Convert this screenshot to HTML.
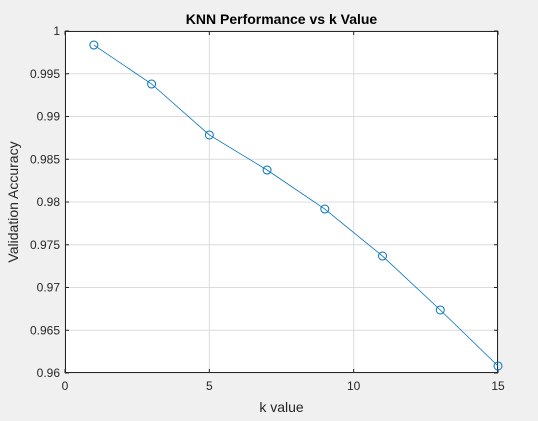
<!DOCTYPE html>
<html><head><meta charset="utf-8"><style>
body{margin:0;background:#f0f0f0;width:538px;height:416px;overflow:hidden;font-family:"Liberation Sans",sans-serif}
</style></head><body>
<svg id="chart" width="538" height="416" xmlns="http://www.w3.org/2000/svg" font-family="Liberation Sans, sans-serif"></svg>
<script>
const kValues=[1,3,5,7,9,11,13,15];
const accuracy=[0.99836,0.9938,0.98784,0.98374,0.97918,0.97368,0.96737,0.96082];
const xTicks=[0,5,10,15];
const yTicks=[0.96,0.965,0.97,0.975,0.98,0.985,0.99,0.995,1];
const yTickLabels=["0.96","0.965","0.97","0.975","0.98","0.985","0.99","0.995","1"];
const L=65,R=498,T=31,B=373;
const xs=v=>L+(v-0)/(15-0)*(R-L);
const ys=v=>B-(v-0.96)/(1-0.96)*(B-T);
const svg=document.getElementById('chart');
const NS='http://www.w3.org/2000/svg';
function mk(tag,attrs,parent){const e=document.createElementNS(NS,tag);for(const k in attrs)e.setAttribute(k,attrs[k]);(parent||svg).appendChild(e);return e;}
const bg=mk('rect',{x:L,y:T,width:R-L,height:B-T,fill:'#fff'});


xTicks.forEach(t=>{const x=xs(t);
const g=mk('line',{x1:x,x2:x,y1:T,y2:B,stroke:'#dcdcdc','stroke-width':1});


mk('line',{x1:x,x2:x,y1:B,y2:B-4,stroke:'#262626'});mk('line',{x1:x,x2:x,y1:T,y2:T+4,stroke:'#262626'});
const tx=mk('text',{x:x,y:B+17,'text-anchor':'middle','font-size':12,fill:'#262626'});tx.textContent=t;

});
yTicks.forEach((t,i)=>{const y=ys(t);
const g=mk('line',{x1:L,x2:R,y1:y,y2:y,stroke:'#dcdcdc','stroke-width':1});


mk('line',{x1:L,x2:L+4,y1:y,y2:y,stroke:'#262626'});mk('line',{x1:R,x2:R-4,y1:y,y2:y,stroke:'#262626'});
const tx=mk('text',{x:L-5,y:y+4,'text-anchor':'end','font-size':12,fill:'#262626'});tx.textContent=yTickLabels[i];

});
const box=mk('rect',{x:L+0.5,y:T+0.5,width:R-L-1,height:B-T-1,fill:'none',stroke:'#262626','stroke-width':1});


const line=mk('polyline',{points:kValues.map((k,i)=>xs(k)+','+ys(accuracy[i])).join(' '),fill:'none',stroke:'#0072bd','stroke-width':0.8});


kValues.forEach((k,i)=>{const c=mk('circle',{cx:xs(k),cy:ys(accuracy[i]),r:4,fill:'none',stroke:'#0072bd','stroke-width':1});

});
const title=mk('text',{x:(L+R)/2,y:24,'text-anchor':'middle','font-size':14,'font-weight':'bold',fill:'#000'});title.textContent='KNN Performance vs k Value';


const xl=mk('text',{x:(L+R)/2,y:412,'text-anchor':'middle','font-size':14,fill:'#262626'});xl.textContent='k value';


const yl=mk('text',{x:0,y:0,'text-anchor':'middle','font-size':14,fill:'#262626',transform:'translate(18,'+((T+B)/2)+') rotate(-90)'});yl.textContent='Validation Accuracy';


</script>
</body></html>
